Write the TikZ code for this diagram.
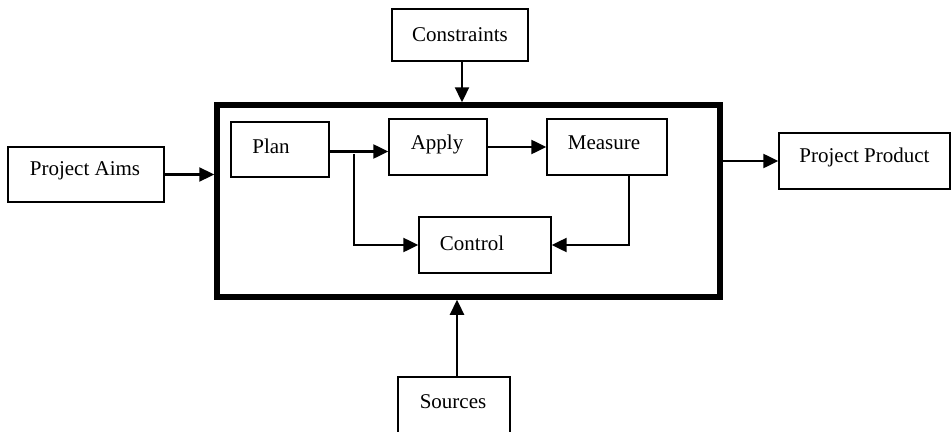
\documentclass[tikz,border=0pt]{standalone}
\usepackage{fontspec}
\setmainfont{Liberation Serif}
\usetikzlibrary{arrows.meta}

\tikzset{
  box/.style={draw, line width=1.4pt, inner sep=0pt, minimum height=56},
  arr/.style={line width=2.3pt, -{Triangle[length=15pt,width=14pt]}},
}

\begin{document}
\begin{tikzpicture}[x=1pt, y=-1pt, font=\fontsize{21}{25}\selectfont]
\useasboundingbox (0,0) rectangle (952,431);
\clip (0,0) rectangle (952,431);

% outer system box
\node[draw, line width=5.5pt, minimum width=503, minimum height=192] (sys) at (468.5,201) {};

% inputs and outputs
\node[box, minimum width=136, minimum height=52] (cons) at (460,35) {Constraints};
\node[box, minimum width=156, minimum height=55,
      label={[xshift=-1,yshift=3.5]center:Project Aims}] (aims) at (86,174.5) {};
\node[box, minimum width=171,
      label={[yshift=4]center:Project Product}] (prod) at (864.5,161) {};
\node[box, minimum width=112, minimum height=60,
      label={[xshift=-1,yshift=5]center:Sources}] (src) at (454,407) {};

% inner steps
\node[box, minimum width=98, minimum height=55,
      label={[xshift=-9,yshift=3.5]center:Plan}] (plan) at (280,149.5) {};
\node[box, minimum width=98,
      label={[xshift=-1,yshift=3]center:Apply}] (apply) at (438,147) {};
\node[box, minimum width=120,
      label={[xshift=-3,yshift=4]center:Measure}] (measure) at (607,147) {};
\node[box, minimum width=132,
      label={[xshift=-13,yshift=2]center:Control}] (ctrl) at (485,245) {};

\coordinate (split) at (354,154);

% connectors
\draw[arr] ([xshift=2]cons.south) -- ([xshift=2]cons.south |- sys.north);
\draw[arr] (aims.east) -- (aims.east -| sys.west);
\draw[arr] (sys.east |- prod.west) -- (prod.west);
\draw[arr] ([xshift=3]src.north) -- ([xshift=3]src.north |- sys.south);
\draw[arr] ([yshift=-2]plan.east) -- ([yshift=-2]plan.east -| apply.west);
\draw[arr] (apply.east) -- (measure.west);
\draw[arr] (split) |- (ctrl.west);
\draw[arr] ([xshift=22]measure.south) |- (ctrl.east);
\end{tikzpicture}
\end{document}
